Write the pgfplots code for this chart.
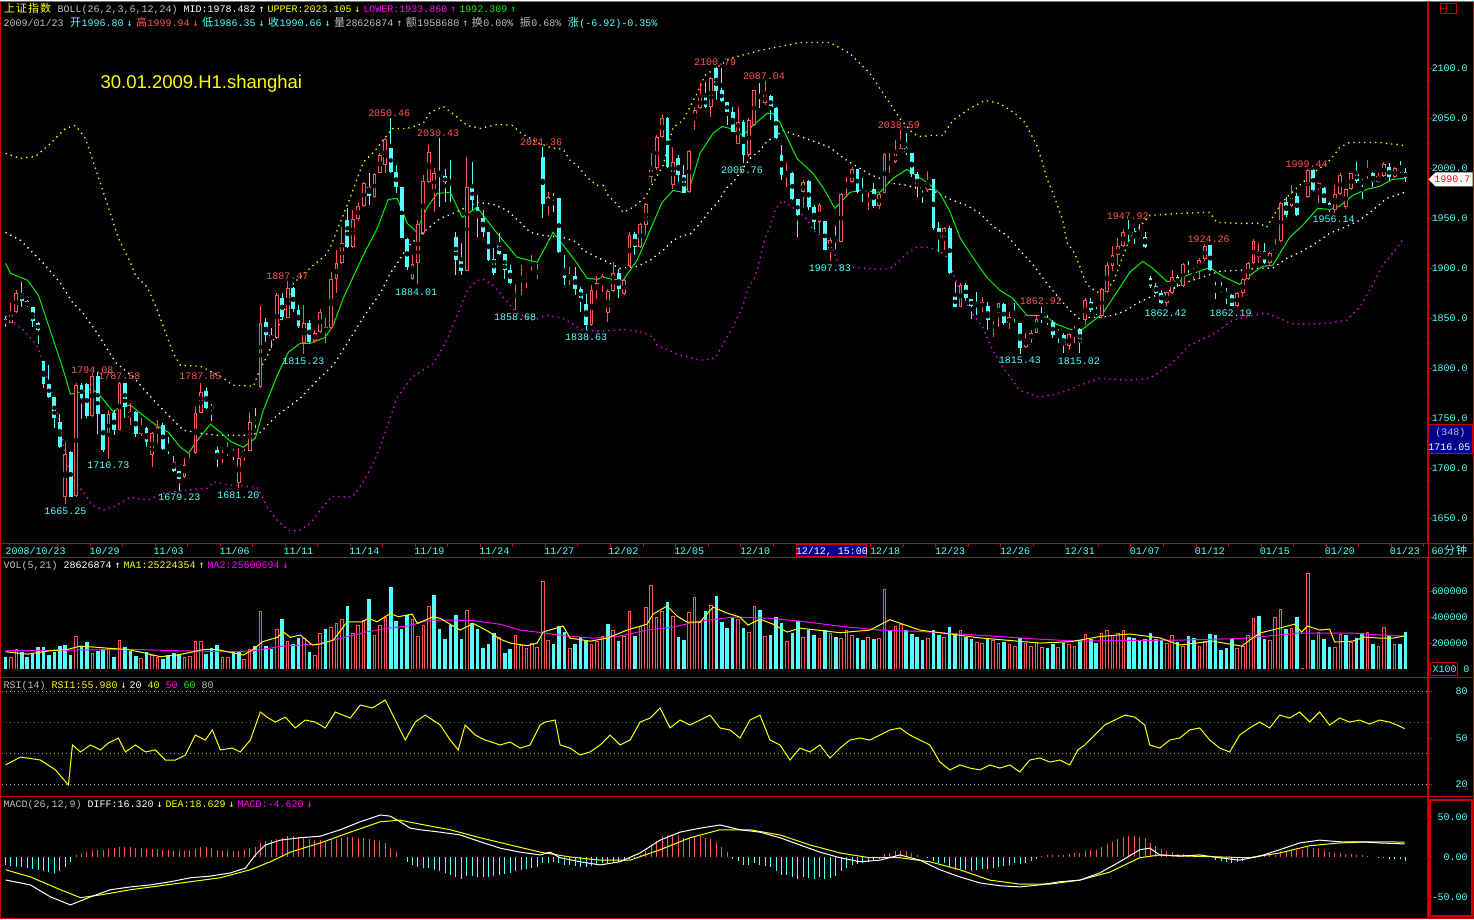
\documentclass[border=0pt]{standalone}
\usepackage{pgfplots}
\pgfplotsset{compat=1.18}
\usepackage{pgfplotstable}
\usepackage{fontspec}
\setmainfont{Liberation Sans}
\setmonofont{Liberation Mono}
\newfontfamily\cjk{Noto Sans CJK SC}
\newfontfamily\arrf{DejaVu Sans Mono}
\definecolor{cr}{RGB}{255,84,84}
\definecolor{cc}{RGB}{84,255,255}
\definecolor{fr}{RGB}{200,0,0}
\definecolor{gr}{RGB}{0,240,0}
\definecolor{yl}{RGB}{255,255,0}
\definecolor{mg}{RGB}{255,0,255}
\definecolor{gy}{RGB}{192,192,192}
\definecolor{nv}{RGB}{0,0,140}
\newcommand\mf{\ttfamily\fontsize{10bp}{12bp}\selectfont}
\newcommand\cj[1]{\makebox[12bp]{\cjk\fontsize{11bp}{12bp}\selectfont #1}}
\newcommand\ua{\makebox[12bp]{\arrf\fontsize{10bp}{12bp}\selectfont ↑}}
\newcommand\da{\makebox[12bp]{\arrf\fontsize{10bp}{12bp}\selectfont ↓}}
\newcommand\spc{\makebox[6bp]{}}

% i, open, high, low, close, volume (thousands), d = volume bar red (1) or cyan (0)
\pgfplotstableread{
i o h l c v d
0 1849 1852 1841 1844 95 0
1 1845 1865 1845 1855 90 1
2 1856 1878 1855 1875 151 1
3 1875 1886 1861 1867 133 0
4 1867 1868 1861 1862 95 0
5 1861 1861 1841 1847 115 0
6 1845 1846 1824 1838 167 0
7 1807 1807 1780 1784 167 0
8 1784 1803 1770 1771 108 0
9 1771 1771 1740 1750 133 0
10 1746 1754 1720 1721 177 0
11 1671 1726 1664 1714 185 0
12 1716 1717 1671 1671 108 0
13 1672 1785 1671 1783 254 1
14 1783 1785 1749 1770 177 0
15 1784 1785 1750 1752 208 0
16 1752 1795 1751 1792 121 1
17 1792 1796 1734 1754 141 0
18 1754 1754 1716 1718 151 0
19 1731 1758 1709 1754 159 1
20 1755 1758 1733 1738 95 0
21 1738 1786 1738 1785 223 1
22 1785 1785 1750 1761 167 0
23 1751 1765 1743 1756 141 0
24 1756 1757 1731 1734 100 0
25 1734 1750 1732 1740 82 1
26 1740 1741 1721 1726 133 0
27 1713 1736 1701 1735 108 1
28 1734 1748 1725 1741 90 1
29 1743 1745 1718 1719 74 0
30 1720 1731 1714 1718 108 0
31 1706 1712 1696 1697 121 0
32 1697 1697 1677 1689 115 0
33 1691 1710 1690 1703 90 1
34 1702 1715 1701 1705 100 1
35 1715 1761 1714 1755 215 1
36 1755 1785 1755 1776 215 1
37 1777 1781 1759 1760 115 0
38 1762 1764 1747 1759 159 0
39 1718 1721 1701 1709 185 0
40 1711 1718 1705 1715 95 1
41 1715 1726 1712 1717 90 1
42 1716 1719 1708 1715 141 0
43 1685 1720 1680 1710 141 0
44 1713 1719 1707 1717 74 1
45 1717 1756 1717 1746 151 1
46 1746 1760 1740 1745 177 0
47 1781 1862 1780 1845 446 1
48 1846 1850 1826 1833 177 0
49 1833 1840 1820 1829 151 0
50 1830 1875 1829 1873 305 1
51 1870 1875 1848 1851 382 0
52 1850 1887 1850 1880 215 1
53 1880 1881 1856 1859 192 0
54 1858 1863 1840 1842 236 0
55 1825 1863 1814 1845 236 1
56 1845 1848 1825 1826 133 0
57 1827 1838 1825 1835 108 1
58 1836 1859 1835 1856 274 1
59 1836 1850 1825 1841 305 0
60 1840 1896 1839 1889 321 1
61 1889 1918 1875 1905 356 1
62 1905 1941 1904 1925 382 1
63 1948 1960 1920 1921 485 0
64 1921 1958 1920 1949 279 1
65 1949 1966 1947 1962 338 1
66 1962 1986 1961 1985 377 1
67 1981 1995 1963 1972 536 0
68 1971 1995 1970 1994 262 1
69 1995 2015 1995 2013 338 1
70 2003 2030 1995 2029 397 1
71 2020 2050 1995 1996 628 0
72 1996 2003 1975 1981 372 0
73 1981 1981 1930 1930 305 0
74 1929 1930 1898 1901 415 0
75 1889 1913 1888 1904 382 1
76 1905 1948 1884 1944 254 1
77 1935 1993 1933 1987 338 1
78 1986 2023 1985 2016 485 1
79 1977 2000 1956 1995 569 0
80 1995 2030 1961 1992 305 0
81 1992 1999 1966 1986 228 0
82 1987 2008 1966 1982 338 0
83 1931 1936 1893 1908 415 0
84 1908 1925 1893 1897 228 0
85 1897 2011 1897 1981 454 1
86 1981 2006 1958 1968 356 0
87 1961 1973 1931 1950 305 0
88 1950 1958 1931 1936 159 0
89 1936 1936 1907 1908 192 0
90 1909 1920 1893 1895 279 0
91 1925 1935 1913 1914 245 1
92 1914 1914 1889 1898 120 0
93 1898 1903 1884 1885 152 0
94 1885 1888 1858 1887 262 1
95 1890 1903 1873 1891 185 1
96 1891 1895 1880 1894 160 1
97 1895 1913 1895 1896 200 1
98 1895 1904 1889 1896 170 1
99 2011 2021 1950 1964 677 1
100 1964 1976 1953 1971 223 1
101 1971 1975 1956 1970 192 0
102 1970 1970 1915 1916 330 0
103 1900 1913 1883 1890 285 0
104 1890 1901 1883 1892 160 1
105 1892 1901 1873 1879 192 0
106 1879 1881 1856 1869 245 0
107 1864 1874 1838 1843 223 0
108 1843 1883 1842 1878 192 1
109 1879 1892 1869 1885 215 1
110 1885 1894 1876 1892 253 1
111 1855 1879 1846 1877 346 0
112 1877 1906 1876 1895 300 1
113 1895 1899 1870 1879 215 0
114 1874 1889 1873 1888 253 1
115 1902 1936 1901 1933 446 1
116 1934 1936 1913 1921 253 0
117 1921 1945 1920 1944 330 1
118 1943 1965 1933 1964 477 1
119 1991 2015 1985 1998 646 1
120 2000 2033 1998 2031 400 1
121 2031 2054 2030 2050 446 1
122 2050 2051 2000 2001 515 0
123 1983 2021 1979 2006 408 1
124 2010 2013 1986 1993 245 0
125 1993 2003 1975 1975 223 0
126 1976 2018 1975 2017 438 1
127 2048 2061 2038 2058 554 1
128 2060 2085 2059 2071 361 1
129 2071 2086 2060 2061 446 0
130 2061 2091 2051 2090 492 1
131 2100 2101 2068 2077 561 0
132 2078 2100 2066 2067 361 0
133 2066 2066 2043 2056 315 0
134 2056 2061 2036 2036 392 0
135 2024 2061 2024 2046 384 1
136 2046 2048 2005 2013 315 0
137 2013 2050 2011 2048 284 1
138 2043 2078 2042 2078 484 1
139 2072 2085 2060 2071 454 0
140 2065 2087 2063 2075 253 1
141 2072 2073 2048 2060 262 0
142 2060 2061 2029 2030 400 0
143 2013 2023 1988 1993 354 0
144 1995 2005 1981 1996 215 1
145 1995 1996 1968 1969 277 0
146 1969 1969 1931 1953 369 0
147 1976 1988 1960 1986 250 1
148 1987 1988 1958 1961 300 0
149 1961 1963 1938 1946 260 0
150 1946 1965 1935 1963 240 1
151 1947 1947 1918 1918 300 0
152 1918 1930 1907 1928 280 1
153 1928 1942 1919 1927 250 0
154 1926 1975 1926 1974 240 1
155 1982 1991 1973 1986 300 1
156 1986 2001 1985 1999 260 1
157 1999 1999 1975 1976 240 0
158 1978 1990 1966 1975 220 0
159 1977 1979 1958 1979 250 1
160 1979 1985 1960 1962 230 0
161 1962 1976 1959 1974 240 1
162 1975 2015 1975 2014 620 1
163 2005 2015 1995 2006 300 0
164 2006 2028 2005 2015 330 1
165 2015 2038 2015 2020 350 1
166 2020 2035 2013 2016 300 0
167 2015 2015 1991 1994 270 0
168 1994 1996 1971 1981 250 0
169 1981 1982 1965 1979 220 0
170 1978 1997 1976 1986 240 1
171 1989 1989 1938 1940 300 0
172 1940 1946 1916 1929 260 0
173 1929 1941 1918 1940 250 1
174 1940 1942 1894 1895 320 0
175 1872 1886 1861 1861 280 0
176 1861 1885 1861 1883 300 1
177 1883 1885 1868 1870 250 0
178 1869 1869 1849 1862 230 0
179 1864 1876 1853 1862 210 1
180 1861 1871 1856 1866 200 1
181 1862 1866 1838 1848 240 0
182 1848 1852 1831 1851 220 1
183 1851 1865 1841 1865 200 1
184 1864 1865 1843 1845 210 0
185 1845 1856 1839 1851 190 1
186 1852 1865 1846 1851 180 1
187 1845 1845 1814 1820 240 0
188 1821 1835 1820 1829 200 1
189 1829 1838 1825 1835 180 1
190 1835 1853 1835 1849 210 1
191 1851 1861 1845 1850 170 1
192 1849 1853 1843 1846 160 0
193 1846 1848 1830 1833 190 0
194 1837 1839 1825 1835 170 1
195 1833 1835 1815 1823 200 0
196 1822 1835 1818 1834 190 1
197 1836 1842 1825 1839 180 1
198 1839 1840 1815 1825 220 0
199 1848 1870 1843 1868 270 1
200 1866 1870 1856 1858 230 0
201 1858 1861 1853 1855 200 0
202 1852 1880 1850 1879 280 1
203 1876 1906 1875 1903 300 1
204 1902 1922 1897 1913 260 1
205 1913 1930 1903 1922 280 1
206 1922 1939 1921 1936 300 1
207 1937 1948 1926 1935 250 0
208 1936 1940 1924 1933 240 0
209 1933 1944 1929 1931 220 0
210 1931 1936 1920 1921 230 0
211 1890 1892 1880 1882 280 0
212 1882 1885 1874 1875 230 0
213 1875 1878 1864 1865 220 0
214 1865 1876 1862 1876 200 1
215 1875 1898 1874 1891 260 1
216 1891 1893 1881 1885 210 0
217 1882 1905 1881 1904 177 1
218 1901 1907 1895 1900 254 0
219 1896 1900 1888 1898 238 0
220 1899 1910 1890 1908 177 1
221 1909 1924 1907 1922 215 1
222 1923 1923 1897 1898 269 0
223 1881 1886 1869 1880 262 0
224 1880 1886 1875 1876 146 0
225 1876 1880 1864 1873 162 0
226 1873 1874 1862 1862 231 0
227 1862 1876 1861 1875 162 1
228 1875 1890 1871 1889 177 1
229 1889 1906 1888 1905 262 1
230 1905 1929 1904 1927 392 1
231 1911 1925 1905 1917 408 0
232 1917 1925 1904 1905 231 0
233 1905 1916 1903 1915 223 1
234 1915 1929 1914 1919 400 1
235 1927 1966 1926 1965 461 1
236 1966 1971 1951 1953 308 0
237 1962 1983 1961 1972 315 1
238 1972 1975 1952 1953 400 0
239 1970 1972 1969 1971 5 1
240 1971 1999 1970 1998 738 1
241 1998 1999 1977 1978 223 0
242 1980 1986 1965 1985 285 1
243 1980 1981 1965 1965 231 0
244 1965 1966 1956 1958 169 0
245 1958 1983 1955 1974 169 1
246 1974 1995 1973 1993 269 1
247 1961 1980 1959 1979 262 0
248 1979 1995 1978 1995 208 1
249 1995 2006 1985 1987 238 0
250 1987 1989 1969 1985 277 0
251 1994 2008 1989 1995 285 1
252 1995 1996 1981 1986 192 0
253 1986 1995 1985 1992 177 1
254 1992 2006 1991 2004 323 1
255 2001 2005 1987 1991 262 0
256 1991 2001 1990 2000 192 1
257 2000 2007 1995 1997 192 0
258 1996.80 1999.94 1986.35 1990.66 286 0
}\candles

\pgfplotstableread{
i m
0 -10
1 -11
2 -12
3 -13
4 -14
5 -15
6 -16
7 -18
8 -19
9 -20
10 -18
11 -12
12 -6
13 2
14 4
15 6
16 8
17 9
18 9
19 10
20 11
21 12
22 12
23 12
24 11
25 11
26 10
27 10
28 10
29 9
30 9
31 8
32 8
33 8
34 9
35 10
36 12
37 12
38 11
39 9
40 8
41 8
42 8
43 8
44 9
45 11
46 12
47 18
48 20
49 21
50 23
51 24
52 26
53 26
54 25
55 24
56 22
57 21
58 21
59 20
60 22
61 23
62 24
63 25
64 25
65 24
66 24
67 22
68 21
69 20
70 18
71 10
72 6
73 0
74 -6
75 -10
76 -13
77 -14
78 -14
79 -16
80 -18
81 -20
82 -22
83 -25
84 -27
85 -24
86 -24
87 -25
88 -25
89 -25
90 -24
91 -22
92 -21
93 -20
94 -18
95 -16
96 -15
97 -14
98 -13
99 -8
100 -7
101 -6
102 -8
103 -10
104 -10
105 -11
106 -12
107 -13
108 -11
109 -9
110 -8
111 -8
112 -6
113 -6
114 -5
115 -2
116 -1
117 2
118 8
119 14
120 20
121 26
122 28
123 28
124 27
125 24
126 24
127 26
128 26
129 24
130 22
131 18
132 12
133 6
134 -2
135 -5
136 -10
137 -10
138 -8
139 -10
140 -11
141 -13
142 -17
143 -22
144 -23
145 -25
146 -27
147 -25
148 -26
149 -27
150 -25
151 -27
152 -26
153 -24
154 -18
155 -14
156 -10
157 -9
158 -8
159 -6
160 -5
161 -2
162 4
163 5
164 7
165 8
166 7
167 5
168 2
169 0
170 -1
171 -5
172 -8
173 -8
174 -12
175 -16
176 -15
177 -16
178 -17
179 -16
180 -15
181 -15
182 -14
183 -12
184 -11
185 -10
186 -8
187 -9
188 -7
189 -5
190 -2
191 1
192 2
193 2
194 3
195 3
196 4
197 5
198 5
199 8
200 9
201 9
202 12
203 16
204 19
205 22
206 25
207 26
208 26
209 25
210 24
211 18
212 14
213 10
214 8
215 6
216 4
217 4
218 2
219 1
220 1
221 2
222 0
223 -4
224 -5
225 -6
226 -7
227 -6
228 -5
229 -3
230 1
231 2
232 2
233 3
234 3
235 7
236 8
237 9
238 9
239 9
240 12
241 11
242 10
243 8
244 6
245 5
246 5
247 4
248 4
249 3
250 2
251 1
252 0
253 -1
254 -1
255 -2
256 -2
257 -3
258 -4.6
}\macdh

\pgfplotsset{
  panel/.style={scale only axis, width=1426bp, xmin=2, xmax=1428, anchor=north west,
    axis x line=none, axis y line*=right,
    y axis line style={draw=fr, line width=1bp},
    ytick style={draw=fr, line width=1bp},
    tick align=outside, major tick length=4bp, minor tick length=2bp,
    yticklabel style={font=\mf, text=cc, anchor=west, inner sep=0pt, text width=36bp, align=right},
    clip=true},
  table/cx/.style={x expr={5+5.43*\thisrow{i}}},
  upf/.style={restrict expr to domain={\thisrow{c}-\thisrow{o}}{0:100000}},
  dnf/.style={restrict expr to domain={\thisrow{c}-\thisrow{o}}{-100000:-0.001}},
  vup/.style={restrict expr to domain={\thisrow{d}}{0.5:2}},
  vdn/.style={restrict expr to domain={\thisrow{d}}{-1:0.5}},
}

\begin{document}
\begin{tikzpicture}[x=1bp,y=1bp]
\fill[black] (0,0) rectangle (1474,-919);

\begin{axis}[panel, at={(2bp,-1bp)}, height=542bp, ymin=1625, ymax=2167,
  ytick={1650,1700,...,2100},
  yticklabels={1650.0,1700.0,1750.0,1800.0,1850.0,1900.0,1950.0,2000.0,2050.0,2100.0},
  minor y tick num=3]
\addplot[yl, line width=1.3bp, dash pattern=on 1.3bp off 4.1bp] coordinates {
(5,2015)(20,2010)(35,2012)(50,2025)(65,2040)(75,2043)(85,2030)(95,2000)(105,1970)(118,1930)(130,1906)(135,1893)(147,1881)(157,1858)(168,1828)(173,1815)(180,1803)(200,1802)(220,1792)(233,1783)(253,1782)(260,1800)(267,1812)(283,1855)(293,1885)(313,1903)(325,1913)(330,1921)(350,1971)(363,2006)(375,2018)(392,2040)(407,2040)(423,2045)(430,2056)(443,2062)(455,2053)(467,2043)(480,2040)(497,2044)(512,2043)(520,2036)(537,2026)(550,2021)(563,2019)(570,2008)(577,2003)(587,1991)(597,1983)(603,1983)(608,1973)(618,1963)(623,1956)(633,1961)(645,1971)(663,2003)(673,2041)(683,2048)(697,2075)(705,2093)(730,2110)(760,2118)(800,2126)(830,2126)(850,2115)(870,2095)(890,2065)(900,2050)(913,2035)(920,2032)(933,2033)(943,2033)(953,2048)(970,2060)(985,2068)(1000,2065)(1015,2055)(1025,2046)(1037,2023)(1042,2008)(1047,1990)(1053,1976)(1063,1948)(1067,1926)(1075,1915)(1080,1902)(1085,1888)(1090,1881)(1100,1875)(1113,1885)(1130,1930)(1150,1953)(1180,1955)(1210,1956)(1217,1946)(1240,1945)(1260,1945)(1267,1941)(1277,1958)(1287,1971)(1300,1983)(1313,1995)(1327,2005)(1335,2014)(1340,2021)(1350,2026)(1378,2026)(1405,2023)};
\addplot[white, line width=1.3bp, dash pattern=on 1.3bp off 4.1bp] coordinates {
(5,1936)(20,1928)(32,1916)(43,1905)(60,1885)(72,1866)(82,1856)(97,1835)(115,1806)(133,1791)(147,1775)(158,1763)(173,1748)(183,1738)(200,1735)(217,1733)(233,1733)(250,1733)(260,1736)(277,1753)(300,1770)(317,1788)(333,1803)(352,1833)(363,1851)(380,1875)(390,1895)(397,1905)(407,1921)(423,1936)(440,1950)(453,1955)(477,1966)(493,1964)(507,1958)(520,1946)(530,1936)(543,1933)(563,1931)(577,1926)(583,1918)(597,1911)(610,1905)(620,1900)(637,1902)(650,1908)(663,1918)(673,1928)(683,1933)(690,1934)(700,1945)(710,1958)(717,1965)(727,1981)(733,1986)(750,2010)(760,2018)(767,2027)(777,2033)(783,2038)(800,2032)(817,2026)(830,2021)(840,2013)(850,2006)(860,2000)(870,1994)(880,1990)(893,1985)(907,1983)(917,1980)(927,1981)(940,1974)(953,1968)(967,1963)(980,1955)(993,1942)(1007,1933)(1020,1918)(1033,1904)(1047,1885)(1057,1873)(1070,1858)(1080,1849)(1090,1851)(1102,1851)(1113,1853)(1127,1858)(1137,1865)(1150,1871)(1167,1876)(1183,1885)(1193,1888)(1220,1897)(1240,1898)(1260,1900)(1273,1900)(1287,1910)(1300,1916)(1313,1923)(1330,1935)(1347,1942)(1360,1948)(1373,1958)(1387,1970)(1405,1976)};
\addplot[mg, line width=1.3bp, dash pattern=on 1.3bp off 4.1bp] coordinates {
(5,1852)(22,1839)(32,1828)(38,1820)(43,1801)(49,1783)(55,1763)(60,1741)(65,1711)(71,1691)(82,1677)(92,1663)(103,1658)(115,1662)(130,1671)(147,1668)(163,1675)(187,1678)(207,1680)(213,1686)(233,1683)(257,1681)(267,1661)(277,1648)(288,1638)(298,1637)(310,1645)(320,1658)(332,1672)(352,1671)(363,1686)(375,1709)(385,1736)(397,1771)(412,1791)(433,1805)(445,1825)(457,1853)(467,1878)(477,1888)(483,1889)(493,1883)(503,1871)(517,1855)(533,1848)(547,1853)(563,1850)(583,1838)(603,1837)(623,1839)(643,1836)(653,1831)(657,1823)(680,1813)(700,1808)(715,1810)(727,1831)(733,1841)(743,1863)(748,1880)(755,1891)(760,1910)(765,1930)(770,1941)(775,1958)(782,1968)(797,1958)(803,1953)(808,1948)(813,1938)(830,1926)(840,1901)(857,1901)(877,1899)(890,1900)(897,1905)(907,1915)(917,1921)(927,1921)(940,1918)(947,1911)(960,1878)(972,1855)(983,1841)(993,1818)(1003,1801)(1020,1778)(1040,1771)(1060,1775)(1080,1783)(1100,1790)(1130,1788)(1150,1790)(1170,1803)(1190,1823)(1215,1835)(1233,1848)(1253,1853)(1267,1855)(1280,1850)(1290,1845)(1307,1844)(1327,1845)(1347,1848)(1360,1861)(1373,1883)(1383,1903)(1393,1915)(1405,1931)};
\addplot[gr, line width=1bp] coordinates {
(5,1905)(10,1895)(27,1888)(38,1873)(43,1858)(62,1801)(70,1774)(80,1776)(90,1779)(97,1776)(113,1756)(120,1762)(130,1763)(140,1755)(157,1742)(168,1736)(180,1721)(188,1715)(197,1728)(210,1744)(220,1736)(230,1727)(243,1721)(255,1730)(263,1758)(277,1793)(288,1816)(300,1825)(310,1825)(325,1831)(333,1843)(343,1870)(355,1896)(363,1913)(377,1940)(388,1969)(397,1970)(407,1945)(416,1937)(427,1961)(437,1975)(450,1976)(462,1951)(477,1961)(497,1935)(517,1911)(537,1906)(553,1936)(567,1918)(577,1905)(587,1890)(597,1889)(603,1891)(613,1889)(623,1888)(637,1908)(650,1938)(662,1966)(673,1978)(683,1976)(690,1982)(700,2015)(713,2035)(722,2042)(730,2040)(743,2033)(753,2043)(767,2055)(773,2055)(780,2046)(797,2010)(813,1995)(823,1981)(835,1960)(850,1976)(860,1978)(870,1977)(880,1976)(893,1990)(907,1999)(913,1995)(927,1986)(940,1975)(950,1957)(960,1931)(973,1911)(987,1891)(1000,1878)(1013,1870)(1027,1853)(1037,1853)(1047,1851)(1057,1844)(1070,1839)(1080,1837)(1093,1847)(1103,1855)(1113,1870)(1130,1896)(1143,1907)(1153,1900)(1167,1887)(1180,1887)(1187,1893)(1200,1897)(1210,1901)(1223,1892)(1240,1884)(1253,1895)(1263,1902)(1273,1903)(1290,1931)(1303,1943)(1318,1960)(1330,1959)(1340,1962)(1353,1973)(1367,1979)(1380,1982)(1393,1989)(1405,1990)};
\addplot[only marks, mark=none, upf, error bars/.cd, y dir=both, y explicit, error mark=none,
  error bar style={cr, line width=1bp}]
  table[cx, y expr={(\thisrow{h}+\thisrow{l})/2}, y error expr={(\thisrow{h}-\thisrow{l})/2}] {\candles};
\addplot[only marks, mark=none, dnf, error bars/.cd, y dir=both, y explicit, error mark=none,
  error bar style={cc, line width=1bp}]
  table[cx, y expr={(\thisrow{h}+\thisrow{l})/2}, y error expr={(\thisrow{h}-\thisrow{l})/2}] {\candles};
\addplot[only marks, mark=none, upf, error bars/.cd, y dir=both, y explicit, error mark=none,
  error bar style={cr, line width=3.8bp}]
  table[cx, y expr={(\thisrow{o}+\thisrow{c})/2}, y error expr={max((\thisrow{c}-\thisrow{o})/2,0.5)}] {\candles};
\addplot[only marks, mark=none, restrict expr to domain={\thisrow{c}-\thisrow{o}}{2.5:100000},
  error bars/.cd, y dir=both, y explicit, error mark=none,
  error bar style={black, line width=1.8bp}]
  table[cx, y expr={(\thisrow{o}+\thisrow{c})/2}, y error expr={(\thisrow{c}-\thisrow{o})/2-1}] {\candles};
\addplot[only marks, mark=none, dnf, error bars/.cd, y dir=both, y explicit, error mark=none,
  error bar style={cc, line width=3.8bp}]
  table[cx, y expr={(\thisrow{o}+\thisrow{c})/2}, y error expr={max((\thisrow{o}-\thisrow{c})/2,0.5)}] {\candles};
\end{axis}

\begin{axis}[panel, at={(2bp,-557bp)}, height=120bp, ymin=-61.5, ymax=861.5,
  ytick={200,400,600}, yticklabels={200000,400000,600000}]
\addplot[ycomb, cr, line width=3.6bp, vup] table[cx, y=v] {\candles};
\addplot[ycomb, black, line width=1.6bp, vup]
  table[cx, y expr={max(\thisrow{v}-7.7,0)}] {\candles};
\addplot[ycomb, cc, line width=3.6bp, vdn] table[cx, y=v] {\candles};
\addplot[mg, line width=1bp] coordinates {
(5,141)(67,146)(133,151)(177,141)(233,133)(253,141)(283,177)(317,192)(347,249)(367,287)(387,313)(407,331)(430,377)(453,377)(473,372)(500,345)(520,300)(540,282)(567,254)(593,238)(620,254)(647,300)(673,323)(700,369)(733,400)(767,392)(800,369)(840,330)(880,300)(920,290)(960,270)(1000,250)(1040,230)(1080,215)(1120,220)(1180,223)(1240,235)(1280,262)(1300,277)(1353,277)(1380,262)(1405,254)};
\addplot[yl, line width=1bp] coordinates {
(5,133)(27,115)(50,141)(67,151)(80,177)(97,167)(110,159)(127,151)(143,126)(160,95)(177,108)(193,133)(203,151)(217,151)(227,133)(243,108)(253,151)(262,210)(277,244)(283,287)(290,244)(300,262)(312,185)(320,192)(333,223)(347,364)(362,364)(368,390)(377,364)(390,428)(398,403)(412,423)(417,351)(433,403)(440,390)(460,300)(473,351)(487,295)(500,230)(510,200)(527,180)(537,200)(543,285)(563,331)(570,238)(590,215)(607,238)(627,300)(647,346)(653,423)(667,485)(677,408)(687,361)(700,361)(713,477)(727,431)(740,400)(748,338)(760,384)(773,346)(787,285)(800,315)(840,280)(870,300)(890,380)(920,300)(950,270)(980,240)(1010,220)(1040,200)(1070,210)(1100,250)(1130,270)(1160,240)(1180,185)(1213,215)(1242,177)(1260,277)(1280,315)(1295,346)(1302,285)(1308,331)(1320,300)(1330,308)(1335,208)(1353,215)(1365,246)(1380,238)(1393,238)(1405,254)};
\end{axis}

\begin{axis}[panel, at={(2bp,-677bp)}, height=120bp, ymin=11.935, ymax=89.355,
  ytick={20,50,80}, yticklabels={20,50,80}, minor ytick={30,40,60,70}]
\addplot[gy, line width=1bp, dash pattern=on 1bp off 3bp] coordinates {(2,80)(1428,80)};
\addplot[gr!70!black, line width=1bp, dash pattern=on 1bp off 3bp] coordinates {(2,60)(1428,60)};
\addplot[yl!70!black, line width=1bp, dash pattern=on 1bp off 3bp] coordinates {(2,40)(1428,40)};
\addplot[gy, line width=1bp, dash pattern=on 1bp off 3bp] coordinates {(2,20)(1428,20)};
\addplot[yl, line width=1bp] coordinates {
(5,32.6)(20,37.7)(40,35.8)(55,29.4)(68,19.7)(72,45.5)(80,41)(90,45.5)(100,42.3)(108,46.8)(118,50)(125,41)(135,45.5)(145,41)(155,42.3)(165,35.8)(175,35.8)(185,39)(195,51.9)(205,48.7)(212,55.2)(220,42.3)(232,43.5)(240,41)(250,48.7)(260,66.8)(268,62.9)(275,60.3)(285,63.5)(295,56.5)(305,61.6)(315,60.3)(325,56.5)(335,66.8)(350,62.9)(360,71.3)(372,69.4)(385,74.5)(395,61.6)(405,48.7)(415,60.3)(425,64.8)(440,58.4)(450,48.7)(458,42.3)(465,58.4)(475,51.9)(485,48.7)(500,45.5)(510,47.4)(520,43.5)(530,45.5)(540,58.4)(545,60.3)(555,61.6)(560,45.5)(570,43.5)(580,39)(590,41)(600,45.5)(610,51.9)(620,45.5)(630,48.7)(640,60.3)(650,62.9)(660,69.4)(670,56.5)(680,61.6)(690,58.4)(700,61.6)(710,64.8)(720,56.5)(730,55.2)(740,50)(750,61.6)(760,64.8)(770,48.7)(780,45.5)(790,35.8)(800,43.5)(810,41)(820,45.5)(830,37.1)(840,43.5)(850,48.7)(860,50)(870,48.7)(880,51.9)(890,55.2)(900,56.5)(910,51.9)(920,48.7)(930,45.5)(940,34.5)(950,29.4)(960,32.6)(970,30.6)(980,29.4)(990,32.6)(1000,30.6)(1010,32.6)(1020,28.1)(1030,35.8)(1040,37.1)(1050,34.5)(1060,35.8)(1070,32.6)(1078,42.3)(1085,45.5)(1095,51.9)(1105,58.4)(1115,61.6)(1125,64.8)(1135,63.5)(1145,58.4)(1150,45.5)(1160,43.5)(1170,48.7)(1180,50)(1190,55.2)(1200,56.5)(1210,48.7)(1220,43.5)(1230,41)(1240,51.9)(1250,56.5)(1260,60.3)(1270,56.5)(1280,64.8)(1290,62.9)(1300,66.8)(1310,60.3)(1320,66.8)(1330,58.4)(1340,62.9)(1350,60.3)(1360,61.6)(1370,59)(1380,61.6)(1390,60.3)(1400,57.7)(1405,56)};
\end{axis}

\begin{axis}[panel, at={(2bp,-797bp)}, height=120bp, ymin=-75, ymax=75,
  ytick={-50,0,50}, yticklabels={-50.00,0.00,50.00}, minor ytick={-25,25}]
\addplot[ycomb, cr, line width=1bp, restrict expr to domain={\thisrow{m}}{0:1000}] table[cx, y=m] {\macdh};
\addplot[ycomb, cc, line width=1bp, restrict expr to domain={\thisrow{m}}{-1000:-0.001}] table[cx, y=m] {\macdh};
\addplot[yl, line width=1bp] coordinates {
(5,-16)(30,-25)(60,-41)(80,-51)(100,-47.5)(130,-41)(160,-36)(190,-31)(220,-26)(250,-16)(270,-6)(290,6)(320,17.5)(350,31)(380,44)(400,46)(420,41)(450,34)(480,24)(510,15)(540,6)(570,0)(600,-4)(630,-4)(660,9)(690,24)(720,34)(750,34)(780,27.5)(810,15)(840,5)(870,-1)(900,-1)(930,-6)(960,-16)(990,-29)(1020,-34)(1050,-34)(1080,-29)(1110,-19)(1140,-1)(1160,2.5)(1190,1)(1220,0)(1250,-1)(1280,5)(1310,14)(1340,17.5)(1370,19)(1405,18.6)};
\addplot[white, line width=1bp] coordinates {
(5,-28.8)(30,-35)(50,-50)(70,-60)(90,-50)(110,-41)(130,-37.5)(150,-35)(170,-31)(190,-26)(210,-24)(230,-20)(245,-14)(255,2.5)(265,15)(280,21)(300,24)(320,26)(340,34)(360,44)(380,52.5)(390,51)(400,44)(410,36)(420,34)(440,31)(460,27.5)(480,19)(500,11)(520,6)(540,2.5)(550,6)(560,-1)(580,-6)(600,-10)(620,-6)(640,5)(660,21)(680,31)(700,36)(720,40)(740,34)(760,31)(780,24)(800,15)(820,6)(840,-1)(860,-6)(880,-4)(900,2.5)(920,-4)(940,-16)(960,-25)(980,-32.5)(1000,-36)(1020,-37.5)(1040,-35)(1060,-31)(1080,-29)(1100,-20)(1120,-6)(1140,9)(1150,11)(1160,2.5)(1180,1)(1200,2.5)(1220,-1)(1240,-4)(1260,1)(1280,9)(1300,17.5)(1320,21)(1340,19)(1360,19)(1380,17.5)(1405,16.3)};
\end{axis}

\draw[fr, line width=1bp] (0.5,-0.5) rectangle (1473.5,-918.5);
\draw[gy!60!black, line width=1bp] (0,-0.5) -- (1474,-0.5);
\foreach \yy in {543,557,677,797} {\draw[fr, line width=1bp] (0,-\yy) -- (1474,-\yy);}
\draw[fr, line width=1bp] (1428.5,0) -- (1428.5,-919);
\draw[fr, line width=2bp] (1430,-800) rectangle (1472,-916);
\draw[fr, line width=1bp] (1441,-3) rectangle (1457,-13) (1447,-3) -- (1447,-13) (1441,-8) -- (1447,-8);
\foreach \k in {1,...,43} {\draw[fr, line width=1bp] ({24.5+32.55*\k},-543) -- ++(0,-4);}

\begin{scope}[every node/.style={anchor=base west, inner sep=0pt, font=\mf}]
\node at (3,-12) {\textcolor{yl}{\cj{上}\cj{证}\cj{指}\cj{数}}\spc\textcolor{gy}{BOLL(26,2,3,6,12,24)}\spc\textcolor{white}{MID:1978.482\ua}\textcolor{yl}{UPPER:2023.105\da}\textcolor{mg}{LOWER:1933.860\ua}\textcolor{gr}{1992.309\ua}};
\node at (3,-26) {\textcolor{gy}{2009/01/23}\spc\textcolor{cc}{\cj{开}1996.80\da}\textcolor{cr}{\cj{高}1999.94\da}\textcolor{cc}{\cj{低}1986.35\da}\textcolor{cc}{\cj{收}1990.66\da}\textcolor{gy}{\cj{量}28626874\ua\cj{额}1958680\ua\cj{换}0.00\%\spc\cj{振}0.68\%\spc}\textcolor{cc}{\cj{涨}(-6.92)-0.35\%}};
\node at (3,-568) {\textcolor{gy}{VOL(5,21)}\spc\textcolor{white}{28626874\ua}\textcolor{yl}{MA1:25224354\ua}\textcolor{mg}{MA2:25600694\da}};
\node at (3,-688) {\textcolor{gy}{RSI(14)}\spc\textcolor{yl}{RSI1:55.980\da}\textcolor{white}{20}\spc\textcolor{yl}{40}\spc\textcolor{mg}{50}\spc\textcolor{gr}{60}\spc\textcolor{gy}{80}};
\node at (3,-808) {\textcolor{gy}{MACD(26,12,9)}\spc\textcolor{white}{DIFF:16.320\da}\textcolor{yl}{DEA:18.629\da}\textcolor{mg}{MACD:-4.620\da}};
\foreach \xx/\tt in {89/10\slash 29,153/11\slash 03,219/11\slash 06,283/11\slash 11,349/11\slash 14,414/11\slash 19,479/11\slash 24,544/11\slash 27,608/12\slash 02,674/12\slash 05,740/12\slash 10,870/12\slash 18,935/12\slash 23,1000/12\slash 26,1065/12\slash 31,1130/01\slash 07,1195/01\slash 12,1260/01\slash 15,1325/01\slash 20,1390/01\slash 23}
  {\node[text=cc] at (\xx,-554) {\tt};}
\node[text=cc] at (5,-554) {2008/10/23};
\node[text=cc] at (1432,-554) {60\cj{分}\cj{钟}};
\end{scope}
\fill[nv] (797,-544) rectangle (867,-556.5);
\draw[fr, line width=1bp] (797,-544) rectangle (867,-556.5);
\node[anchor=base, inner sep=0pt, font=\mf, text=white] at (832,-554) {12/12, 15:00};

\node[anchor=west, inner sep=0pt, font=\fontsize{18.5bp}{20bp}\selectfont, text=yl] at (100,-83) {30.01.2009.H1.shanghai};

\begin{scope}[every node/.style={inner sep=0pt, font=\mf}]
\foreach \xx/\yy/\tt in {92/370/1794.08,119/376/1787.58,200/376/1787.85,287/276/1887.47,389/113/2050.46,438/133/2030.43,541/142/2021.36,715/62/2100.79,764/76/2087.04,899/125/2038.59,1041/301/1862.92,1128/216/1947.92,1209/239/1924.26,1307/164/1999.44}
  {\node[text=cr] at (\xx,-\yy) {\tt};}
\foreach \xx/\yy/\tt in {65/511/1665.25,108/465/1710.73,179/497/1679.23,238/495/1681.20,303/361/1815.23,416/292/1884.01,515/317/1858.68,586/337/1838.63,742/170/2005.76,830/268/1907.83,1020/360/1815.43,1079/361/1815.02,1166/313/1862.42,1231/313/1862.19,1334/219/1956.14}
  {\node[text=cc] at (\xx,-\yy) {\tt};}
\end{scope}

\fill[white] (1429,-179) -- (1436,-172) -- (1473,-172) -- (1473,-186) -- (1436,-186) -- cycle;
\node[anchor=east, inner sep=0pt, font=\mf, text=red] at (1471,-179) {1990.7};
\fill[nv] (1429,-424) rectangle (1473,-453);
\draw[fr, line width=1bp] (1429,-424) rectangle (1473,-453);
\node[anchor=base east, inner sep=0pt, font=\mf, text=gy] at (1466,-435) {(348)};
\node[anchor=base east, inner sep=0pt, font=\mf, text=white] at (1471,-450) {1716.05};
\draw[fr, line width=1bp] (1431,-662) rectangle (1458,-675);
\node[anchor=base west, inner sep=0pt, font=\mf, text=cc] at (1433,-672) {X100};
\node[anchor=base east, inner sep=0pt, font=\mf, text=cc] at (1470,-672) {0};
\end{tikzpicture}
\end{document}
